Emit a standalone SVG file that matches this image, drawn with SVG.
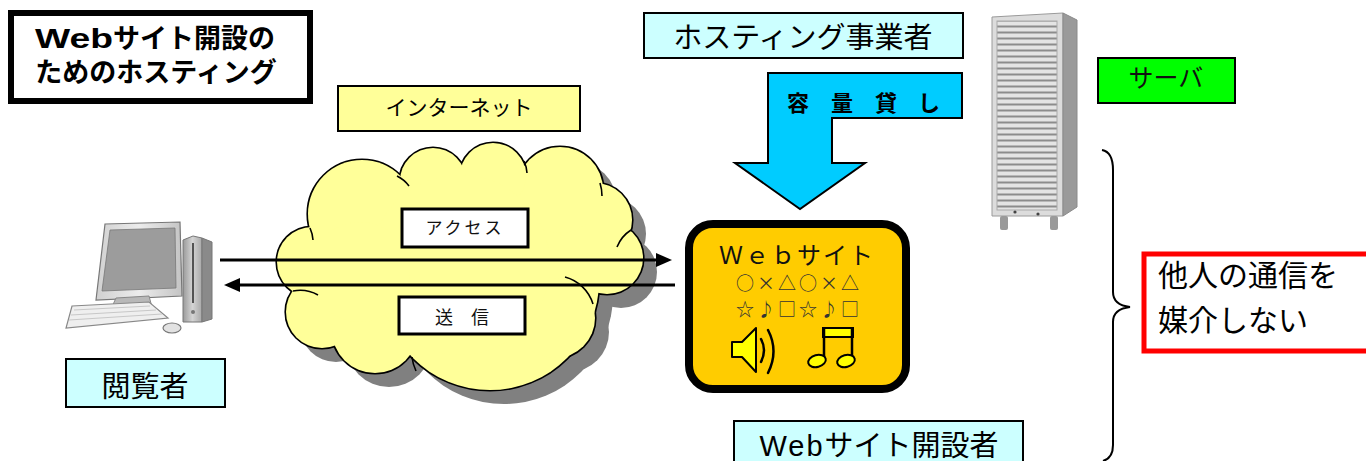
<svg xmlns="http://www.w3.org/2000/svg" xmlns:xlink="http://www.w3.org/1999/xlink" width="1366" height="461" viewBox="0 0 1366 461">
  <style>
    .goth { font-family: "Liberation Sans", "Noto Sans CJK JP", sans-serif; fill: #000; }
    .minc { font-family: "Noto Sans CJK JP", serif; fill: #111; }
    .label { stroke: #000; stroke-width: 2; }
    .cyan { fill: #ccffff; }
    .wire { stroke: #000; stroke-width: 3; fill: none; }
    .inner { stroke: #000; stroke-width: 1.6; fill: none; }
    .outline { stroke: #000; stroke-width: 2; }
    .symbols { font-size: 18px; letter-spacing: 3px; fill: #333; }
  </style>
  <defs>
    <marker id="head" viewBox="0 0 16 14" refX="2" refY="7" markerWidth="16" markerHeight="14" markerUnits="userSpaceOnUse" orient="auto">
      <path d="M0,0 L16,7 L0,14 z" fill="#000"/>
    </marker>
    <!-- cloud built as a union of circles -->
    <g id="cloudShape">
      <circle cx="312" cy="262" r="35"/>
      <circle cx="322" cy="312" r="36"/>
      <circle cx="375" cy="330" r="43"/>
      <circle cx="490" cy="281" r="109"/>
      <circle cx="555" cy="318" r="40"/>
      <circle cx="607" cy="258" r="36"/>
      <circle cx="595" cy="220" r="37"/>
      <circle cx="560" cy="190" r="43"/>
      <circle cx="493" cy="176" r="33"/>
      <circle cx="433" cy="181" r="33"/>
      <circle cx="362" cy="214" r="54"/>
      <circle cx="460" cy="265" r="90"/>
      <circle cx="360" cy="272" r="50"/>
    </g>
    <pattern id="slats" width="60" height="6" patternUnits="userSpaceOnUse" y="22">
      <rect width="60" height="6" fill="#e4e4e4"/>
      <rect y="3.5" width="60" height="2" fill="#8c8c8c"/>
    </pattern>
    <linearGradient id="metal" x1="0" y1="0" x2="1" y2="0">
      <stop offset="0" stop-color="#d0d0d0"/>
      <stop offset="0.5" stop-color="#ececec"/>
      <stop offset="1" stop-color="#c4c4c4"/>
    </linearGradient>
    <linearGradient id="tower" x1="0" y1="0" x2="1" y2="0">
      <stop offset="0" stop-color="#9a9a9a"/>
      <stop offset="0.5" stop-color="#d4d4d4"/>
      <stop offset="1" stop-color="#a8a8a8"/>
    </linearGradient>
  </defs>

  <rect width="1366" height="461" fill="#fff"/>

  <!-- title -->
  <g id="title">
    <rect x="11" y="13" width="299" height="88" fill="#fff" stroke="#000" stroke-width="6"/>
    <text class="goth" x="35" y="48" font-size="27" font-weight="bold"><tspan textLength="78" lengthAdjust="spacingAndGlyphs">Web</tspan>サイト開設の</text>
    <text class="goth" x="156" y="82" font-size="27" font-weight="bold" text-anchor="middle">ためのホスティング</text>
  </g>

  <!-- internet label -->
  <g id="internet-label">
    <rect class="label" x="338" y="86" width="242" height="45" fill="#ffff99"/>
    <text class="goth" x="459" y="115" font-size="21" text-anchor="middle">インターネット</text>
  </g>

  <!-- internet cloud -->
  <g id="cloud">
    <use xlink:href="#cloudShape" fill="#808080" transform="translate(14,14)"/>
    <use xlink:href="#cloudShape" fill="#ffff99" stroke="#000" stroke-width="3.2"/>
    <use xlink:href="#cloudShape" fill="#ffff99"/>
    <path class="inner" d="M397,176 A33,33 0 0 1 409,186"/>
    <path class="inner" d="M524,161 A33,33 0 0 1 527,173"/>
    <path class="inner" d="M600,183 A43,43 0 0 1 602,196"/>
    <path class="inner" d="M617,247 A36,36 0 0 1 631,230"/>
    <path class="inner" d="M565,277 A40,40 0 0 1 593,304"/>
    <path class="inner" d="M412,357 A43,43 0 0 0 416,371"/>
    <path class="inner" d="M293,291 A36,36 0 0 1 318,295"/>
    <path class="inner" d="M310,228 A35,35 0 0 1 313,240"/>
  </g>

  <g id="access-label">
    <rect x="402" y="209" width="126" height="38" fill="#fff" stroke="#000" stroke-width="3"/>
    <text class="minc" x="465" y="234" font-size="17" letter-spacing="3" text-anchor="middle">アクセス</text>
  </g>
  <g id="send-label">
    <rect x="399" y="297" width="126" height="37" fill="#fff" stroke="#000" stroke-width="3"/>
    <text class="minc" x="462" y="324" font-size="18" text-anchor="middle">送　信</text>
  </g>

  <!-- connectors -->
  <g id="connectors">
    <line class="wire" x1="220" y1="260" x2="658" y2="260" marker-end="url(#head)"/>
    <line class="wire" x1="675" y1="285" x2="238" y2="285" marker-end="url(#head)"/>
  </g>

  <!-- viewer computer -->
  <g id="viewer-pc">
    <polygon points="105,224 180,222 182,296 96,300" fill="url(#metal)" stroke="#777" stroke-width="1.2"/>
    <polygon points="110,230 175,228 176,288 102,291" fill="#9c9c9c" stroke="#777" stroke-width="0.8"/>
    <polygon points="116,298 149,296 152,307 111,309" fill="#b8b8b8" stroke="#888" stroke-width="1"/>
    <polygon points="72,306 149,302 168,318 66,328" fill="#efefef" stroke="#888" stroke-width="1.2"/>
    <path d="M74,310 L150,306 M71,315 L156,310 M69,320 L162,314" stroke="#c8c8c8" stroke-width="1" fill="none"/>
    <ellipse cx="172" cy="328" rx="9" ry="5" fill="#e2e2e2" stroke="#777" stroke-width="1.2"/>
    <polygon points="183,240 193,236 202,238 202,322 183,322" fill="url(#tower)" stroke="#777" stroke-width="1"/>
    <polygon points="202,238 212,242 212,319 202,322" fill="#8a8a8a" stroke="#777" stroke-width="1"/>
    <line x1="193" y1="243" x2="193" y2="303" stroke="#333" stroke-width="1.6"/>
    <circle cx="193" cy="312" r="2" fill="#777"/>
  </g>

  <g id="viewer-label">
    <rect class="label cyan" x="66" y="359" width="159" height="48"/>
    <text class="goth" x="145" y="397" font-size="29" text-anchor="middle">閲覧者</text>
  </g>

  <!-- hosting provider -->
  <g id="provider-label">
    <rect class="label cyan" x="644" y="13" width="319" height="45"/>
    <text class="goth" x="803" y="48" font-size="29" text-anchor="middle">ホスティング事業者</text>
  </g>

  <g id="capacity-arrow">
    <polygon class="outline" points="768,73 962,73 962,118 832,118 832,163 865,163 800,209 735,163 768,163" fill="#00ccff"/>
    <text class="goth" x="787 831 875 918" y="111" font-size="22" font-weight="bold">容量貸し</text>
  </g>

  <!-- web site -->
  <g id="website">
    <rect x="689" y="224" width="217" height="165" rx="24" fill="#ffcc00" stroke="#000" stroke-width="8"/>
    <text class="minc" x="797" y="264" font-size="24" letter-spacing="2" text-anchor="middle">Ｗｅｂサイト</text>
    <text class="minc symbols" x="799" y="290" text-anchor="middle">○×△○×△</text>
    <text class="minc symbols" x="799" y="316" text-anchor="middle">☆♪□☆♪□</text>
    <polygon points="732,342 742,342 756,328 756,372 742,357 732,357" fill="#ffff00" stroke="#000" stroke-width="2" stroke-linejoin="round"/>
    <path d="M761,339 Q767,350 761,362 M768,330 Q779,351 768,373" stroke="#000" stroke-width="2.5" fill="none" stroke-linecap="round"/>
    <rect x="823" y="328" width="30" height="9" fill="#ffff00" stroke="#000" stroke-width="2"/>
    <path d="M824,328 V360 M852,328 V360" stroke="#000" stroke-width="2.5"/>
    <ellipse cx="817" cy="361" rx="9" ry="6" fill="#ffff00" stroke="#000" stroke-width="2" transform="rotate(-15 817 361)"/>
    <ellipse cx="846" cy="361" rx="9" ry="6" fill="#ffff00" stroke="#000" stroke-width="2" transform="rotate(-15 846 361)"/>
  </g>

  <g id="site-owner-label">
    <rect class="label cyan" x="734" y="421" width="289" height="50"/>
    <text class="goth" x="879" y="456" font-size="29" text-anchor="middle"><tspan letter-spacing="2">Web</tspan>サイト開設者</text>
  </g>

  <!-- server -->
  <g id="server">
    <polygon points="992,17 1063,13 1063,216 992,216" fill="#dcdcdc" stroke="#9a9a9a" stroke-width="1"/>
    <polygon points="1063,13 1077,20 1077,207 1063,216" fill="#9a9a9a" stroke="#8a8a8a" stroke-width="1"/>
    <rect x="997" y="21" width="60" height="189" fill="url(#slats)" stroke="#aaa" stroke-width="1"/>
    <rect x="1000" y="216" width="8" height="14" rx="2" fill="#9a9a9a"/>
    <rect x="1050" y="216" width="8" height="14" rx="2" fill="#9a9a9a"/>
    <circle cx="1015" cy="212" r="1.6" fill="#444"/>
    <circle cx="1038" cy="214" r="1.6" fill="#444"/>
  </g>

  <g id="server-label">
    <rect class="label" x="1098" y="58" width="137" height="45" fill="#00ff00"/>
    <text class="minc" x="1166" y="87" font-size="25" text-anchor="middle" fill="#222">サーバ</text>
  </g>

  <!-- brace and note -->
  <g id="brace">
    <path d="M1102,150 Q1113,152 1113,170 L1113,292 Q1113,305 1130,307 Q1113,309 1113,322 L1113,445 Q1113,458 1103,461" fill="none" stroke="#000" stroke-width="2"/>
  </g>

  <g id="no-relay-note">
    <rect x="1144" y="254" width="230" height="97" fill="#fff" stroke="#ff0000" stroke-width="5"/>
    <text class="goth" x="1158" y="286" font-size="30">他人の通信を</text>
    <text class="goth" x="1158" y="331" font-size="30">媒介しない</text>
  </g>
</svg>
